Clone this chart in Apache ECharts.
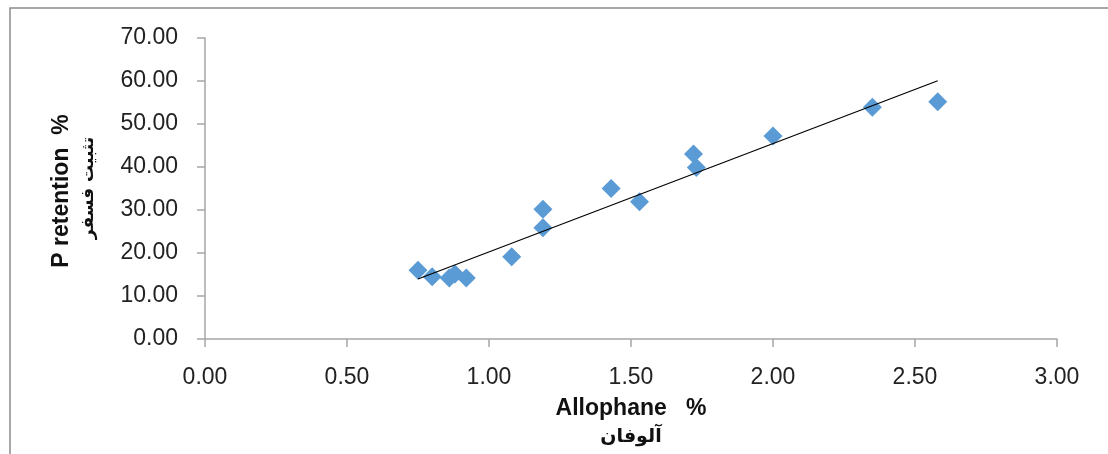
<!DOCTYPE html>
<html>
<head>
<meta charset="utf-8">
<script src="https://cdn.jsdelivr.net/npm/echarts@6/dist/echarts.min.js"></script>
<style>html,body{margin:0;padding:0;background:#fff}#c{width:1108px;height:454px}</style>
</head>
<body>
<div id="c"></div>
<script>
const allophane = [0.75, 0.80, 0.86, 0.88, 0.92, 1.08, 1.19, 1.19, 1.43, 1.53, 1.72, 1.73, 2.00, 2.35, 2.58];
const pRetention = [16.0, 14.5, 14.2, 15.1, 14.2, 19.1, 30.2, 25.9, 35.0, 31.9, 43.0, 39.9, 47.2, 53.9, 55.2];
const xTitle = 'Allophane   %';
const xTitleAr = 'آلوفان';
const yTitle = 'P retention  %';
const yTitleAr = 'تثبيت فسفر';

// least-squares trendline from the data
const n = allophane.length;
const mx = allophane.reduce((a, b) => a + b, 0) / n;
const my = pRetention.reduce((a, b) => a + b, 0) / n;
let sxy = 0, sxx = 0;
for (let i = 0; i < n; i++) { sxy += (allophane[i] - mx) * (pRetention[i] - my); sxx += (allophane[i] - mx) ** 2; }
const slope = sxy / sxx, icpt = my - slope * mx;
const xMin = Math.min(...allophane), xMax = Math.max(...allophane);
const trend = [[xMin, icpt + slope * xMin], [xMax, icpt + slope * xMax]];

const chart = echarts.init(document.getElementById('c'));
const labelFont = { color: '#222', fontSize: 23, fontFamily: 'Liberation Sans, Arial, sans-serif' };
chart.setOption({
  animation: false,
  grid: { left: 205, right: 51, top: 38, bottom: 115, containLabel: false },
  xAxis: {
    type: 'value', min: 0, max: 3, interval: 0.5,
    axisLine: { show: true, lineStyle: { color: '#a6a6a6', width: 1.5 } },
    axisTick: { show: true, length: 8, lineStyle: { color: '#a6a6a6', width: 1.5 } },
    splitLine: { show: false },
    axisLabel: Object.assign({ margin: 27, formatter: v => v.toFixed(2) }, labelFont)
  },
  yAxis: {
    type: 'value', min: 0, max: 70, interval: 10,
    axisLine: { show: true, lineStyle: { color: '#a6a6a6', width: 1.5 } },
    axisTick: { show: true, length: 8, lineStyle: { color: '#a6a6a6', width: 1.5 } },
    splitLine: { show: false },
    axisLabel: Object.assign({ margin: 27, formatter: v => v.toFixed(2) }, labelFont)
  },
  series: [
    {
      type: 'line', data: trend, symbol: 'none', silent: true,
      lineStyle: { color: '#000', width: 1.2 }, z: 3
    },
    {
      type: 'scatter', data: allophane.map((x, i) => [x, pRetention[i]]),
      symbol: 'diamond', symbolSize: [19, 19],
      itemStyle: { color: '#5b9bd5', opacity: 1 }, z: 2
    }
  ],
  graphic: [
    { type: 'rect', shape: { x: 10, y: 8, width: 1300, height: 600 }, style: { fill: 'none', stroke: '#8c8c8c', lineWidth: 1.5 }, silent: true, z: -1 },
    { type: 'text', x: 631, y: 409, style: { text: xTitle, align: 'center', verticalAlign: 'middle', font: 'bold 23px "Liberation Sans", Arial, sans-serif', fill: '#111' } },
    { type: 'text', x: 631, y: 437, style: { text: xTitleAr, align: 'center', verticalAlign: 'middle', font: 'bold 19px "DejaVu Sans", sans-serif', fill: '#111' } },
    { type: 'text', x: 62, y: 191, rotation: Math.PI / 2, style: { text: yTitle, align: 'center', verticalAlign: 'middle', font: 'bold 23px "Liberation Sans", Arial, sans-serif', fill: '#111' } },
    { type: 'text', x: 89, y: 188, rotation: Math.PI / 2, style: { text: yTitleAr, align: 'center', verticalAlign: 'middle', font: 'bold 17px "DejaVu Sans", sans-serif', fill: '#111' } }
  ]
});
</script>
</body>
</html>
